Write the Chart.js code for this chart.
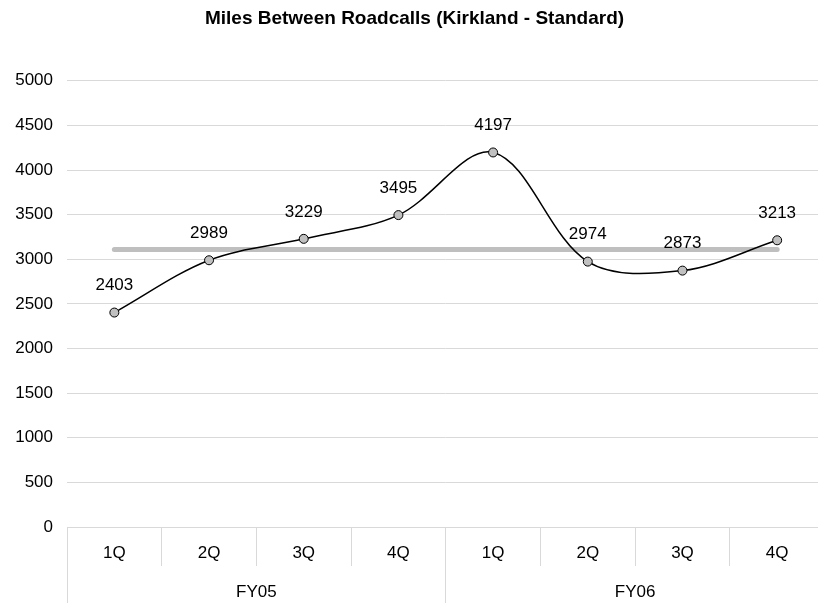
<!DOCTYPE html>
<html>
<head>
<meta charset="utf-8">
<script src="https://cdn.jsdelivr.net/npm/chart.js@4.4.1/dist/chart.umd.min.js"></script>
<style>
html,body{margin:0;padding:0;background:#fff;overflow:hidden;}
#wrap{width:830px;height:603px;position:relative;}
</style>
</head>
<body>
<div id="wrap"><canvas id="c" width="830" height="603"></canvas></div>
<script>
const titleText = 'Miles Between Roadcalls (Kirkland - Standard)';
const quarters = ['1Q','2Q','3Q','4Q','1Q','2Q','3Q','4Q'];
const fiscalYears = ['FY05','FY06'];
const milesBetweenRoadcalls = [2403, 2989, 3229, 3495, 4197, 2974, 2873, 3213];
const goalLine = [3110, 3110, 3110, 3110, 3110, 3110, 3110, 3110];
const yTicks = [0, 500, 1000, 1500, 2000, 2500, 3000, 3500, 4000, 4500, 5000];

const FONT = '"Liberation Sans", Arial, sans-serif';

const valueLabels = {
  id: 'valueLabels',
  afterDatasetsDraw(chart) {
    const ctx = chart.ctx;
    const meta = chart.getDatasetMeta(0);
    ctx.save();
    ctx.font = '17px ' + FONT;
    ctx.fillStyle = '#000';
    ctx.textAlign = 'center';
    ctx.textBaseline = 'middle';
    meta.data.forEach((el, i) => {
      ctx.fillText(String(milesBetweenRoadcalls[i]), el.x, el.y - 27);
    });
    ctx.restore();
  }
};

new Chart(document.getElementById('c'), {
  type: 'line',
  data: {
    labels: quarters,
    datasets: [
      {
        label: 'Miles Between Roadcalls',
        data: milesBetweenRoadcalls,
        borderColor: '#000',
        borderWidth: 1.5,
        tension: 0.34,
        pointRadius: 4.5,
        pointBackgroundColor: '#c0c0c0',
        pointBorderColor: '#000',
        pointBorderWidth: 1,
        order: 1
      },
      {
        label: 'Goal',
        data: goalLine,
        borderColor: '#bfbfbf',
        borderWidth: 5,
        borderCapStyle: 'round',
        pointRadius: 0,
        tension: 0,
        order: 2
      }
    ]
  },
  options: {
    responsive: false,
    animation: false,
    events: [],
    layout: { padding: { left: 0, right: 1, top: 0, bottom: 0 } },
    plugins: {
      legend: { display: false },
      tooltip: { enabled: false },
      title: {
        display: true,
        text: titleText,
        color: '#000',
        font: { family: FONT, size: 19, weight: 'bold', lineHeight: 1.2 },
        padding: { top: 7, bottom: 51 }
      }
    },
    scales: {
      y: {
        min: 0,
        max: 5000,
        afterBuildTicks(scale) { scale.ticks = yTicks.map(v => ({ value: v })); },
        afterFit(scale) { scale.width = 67; },
        grid: { color: '#d9d9d9', lineWidth: 1, drawTicks: false },
        border: { display: false },
        ticks: {
          color: '#000',
          font: { family: FONT, size: 17 },
          padding: 14,
          callback: (v) => String(v)
        }
      },
      x: {
        type: 'category',
        position: 'bottom',
        offset: true,
        afterFit(scale) { scale.height = 39; },
        grid: { offset: true, drawOnChartArea: false, color: '#d9d9d9', tickLength: 39 },
        border: { display: true, color: '#d9d9d9' },
        ticks: {
          color: '#000',
          font: { family: FONT, size: 17 },
          padding: -23,
          maxRotation: 0,
          autoSkip: false
        }
      },
      x2: {
        type: 'category',
        position: 'bottom',
        labels: fiscalYears,
        offset: true,
        afterFit(scale) { scale.height = 37; },
        grid: { offset: true, drawOnChartArea: false, color: '#d9d9d9', tickLength: 37 },
        border: { display: false },
        ticks: {
          color: '#000',
          font: { family: FONT, size: 17 },
          padding: -21,
          maxRotation: 0,
          autoSkip: false
        }
      }
    }
  },
  plugins: [valueLabels]
});
</script>
</body>
</html>
